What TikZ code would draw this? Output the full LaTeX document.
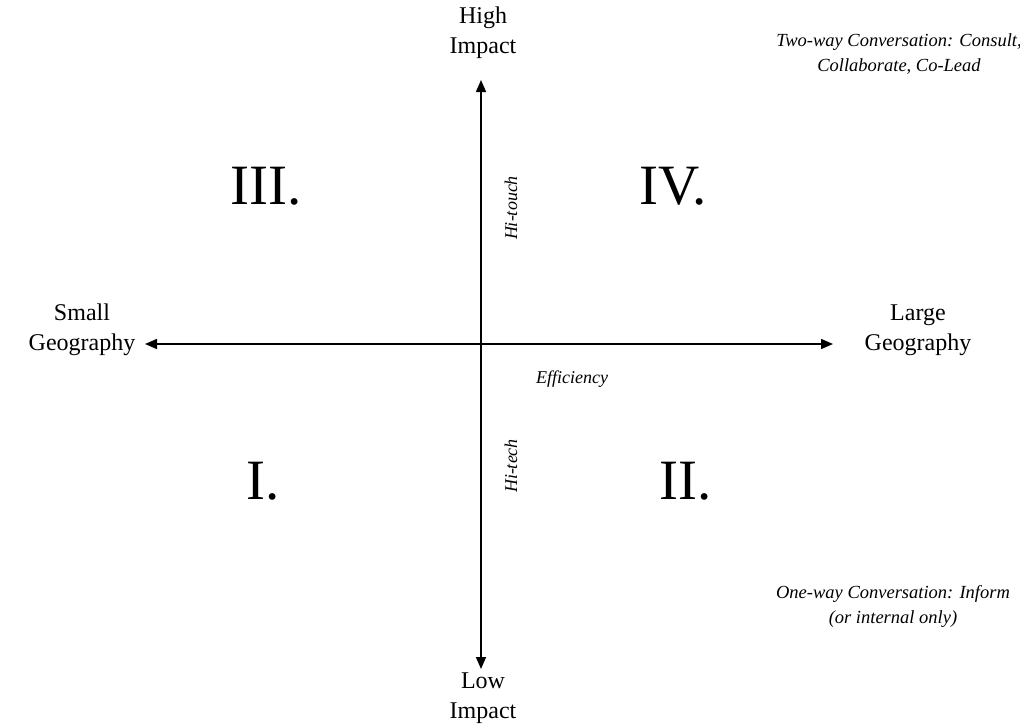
\documentclass[tikz,border=0pt]{standalone}
\usepackage{fontspec}
\setmainfont{Liberation Serif}
\usetikzlibrary{arrows.meta}
\tikzset{
  axis/.style={line width=1.6pt, {Triangle[length=12pt,width=10pt]}-{Triangle[length=12pt,width=10pt]}},
  axislabel/.style={font=\fontsize{24}{30}\selectfont, align=center, inner sep=0pt},
  quad/.style={font=\fontsize{57}{60}\selectfont, inner sep=0pt},
  note/.style={font=\fontsize{18.5}{25}\selectfont\itshape, align=center, inner sep=0pt},
  small/.style={font=\fontsize{18}{20}\selectfont\itshape, inner sep=0pt}
}
\begin{document}
\begin{tikzpicture}[x=1pt,y=-1pt]
\useasboundingbox (0,0) rectangle (1020,726);
\coordinate (top) at (481,80);
\coordinate (bot) at (481,669);
\coordinate (left) at (145,344);
\coordinate (right) at (833,344);
\draw[axis] (bot) -- (top);
\draw[axis] (left) -- (right);
\node[axislabel] (hi) at (483,33) {High\\Impact};
\node[axislabel] (lo) at (483,698) {Low\\Impact};
\node[axislabel] (sg) at (82,330) {Small\\Geography};
\node[axislabel] (lg) at (918,330) {Large\\Geography};
\node[quad] (q3) at (266,186) {III.};
\node[quad] (q4) at (673,186) {IV.};
\node[quad] (q1) at (263,481) {I.};
\node[quad] (q2) at (686,481) {II.};
\node[note] (two) at (899,54) {Two-way Conversation: Consult,\\Collaborate, Co-Lead};
\node[note] (one) at (893,606) {One-way Conversation: Inform\\(or internal only)};
\node[small, rotate=90] (ht) at (511,208) {Hi-touch};
\node[small, rotate=90] (htech) at (511,466) {Hi-tech};
\node[small] (eff) at (572,379) {Efficiency};
\end{tikzpicture}
\end{document}
